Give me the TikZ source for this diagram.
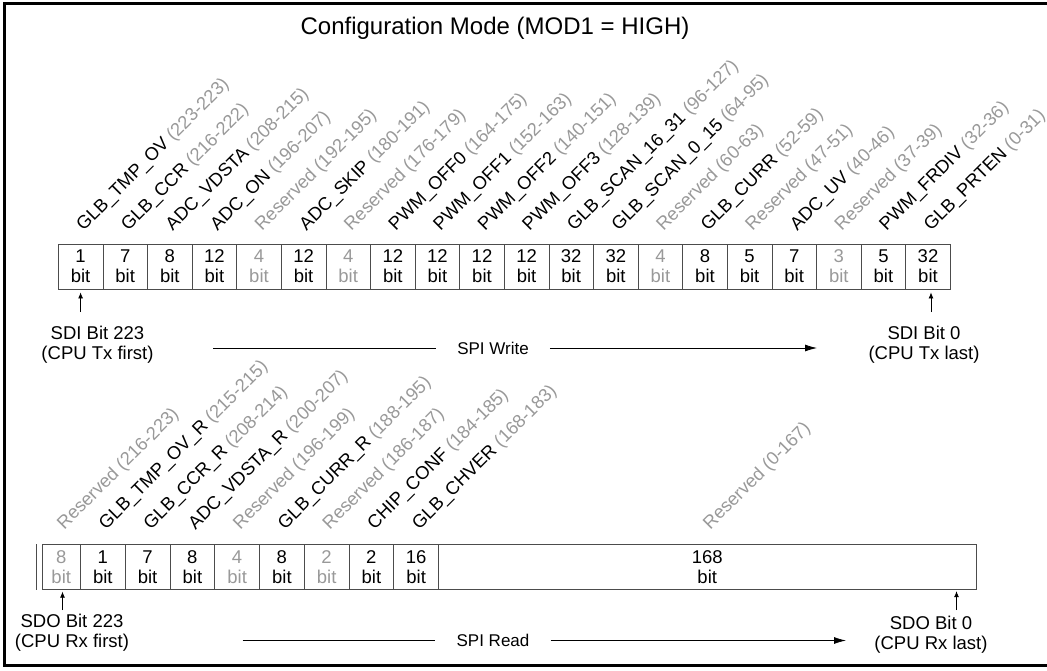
\documentclass[tikz,border=0pt]{standalone}
\usepackage{fontspec}
\setmainfont{Liberation Sans}
\usetikzlibrary{arrows.meta}

\definecolor{resgray}{gray}{0.6}
\definecolor{linegray}{gray}{0.3}

\tikzset{
  cell/.style={draw=linegray, line width=0.8pt, minimum height=45pt, inner sep=0pt,
    align=center, font=\fontsize{18.5}{20}\selectfont},
  lbl/.style={rotate=45, anchor=base west, inner sep=0pt, font=\fontsize{18.3}{20}\selectfont},
  note/.style={align=center, inner sep=0pt, font=\fontsize{18.5}{20}\selectfont},
  arr/.style={-{Latex[length=6pt,width=5pt]}, line width=0.8pt, shorten >=3pt},
  flow/.style={-{Latex[length=12pt,width=7pt]}, line width=0.8pt},
  spi/.style={inner xsep=21pt, inner ysep=0pt, font=\fontsize{17}{20}\selectfont}
}

\begin{document}
\begin{tikzpicture}[x=1pt, y=-1pt]
\useasboundingbox (0,0) rectangle (1047,671);
\draw[line width=3pt] (1060,4) -- (4,4) -- (4,665) -- (1060,665);

% Title
\node[font=\fontsize{24}{28}\selectfont, anchor=base, inner sep=0pt] (title) at (495,35)
  {Configuration Mode (MOD1 = HIGH)};

% Write register
\foreach \i/\nb/\lab/\rng/\lc/\tc in {
  1/1/GLB\_TMP\_OV/223-223/black/black, 2/7/GLB\_CCR/216-222/black/black,
  3/8/ADC\_VDSTA/208-215/black/black, 4/12/ADC\_ON/196-207/black/black,
  5/4/Reserved/192-195/resgray/resgray, 6/12/ADC\_SKIP/180-191/black/black,
  7/4/Reserved/176-179/resgray/resgray, 8/12/PWM\_OFF0/164-175/black/black,
  9/12/PWM\_OFF1/152-163/black/black, 10/12/PWM\_OFF2/140-151/black/black,
  11/12/PWM\_OFF3/128-139/black/black, 12/32/GLB\_SCAN\_16\_31/96-127/black/black,
  13/32/GLB\_SCAN\_0\_15/64-95/black/black, 14/4/Reserved/60-63/resgray/resgray,
  15/8/GLB\_CURR/52-59/black/black, 16/5/Reserved/47-51/resgray/black,
  17/7/ADC\_UV/40-46/black/black, 18/3/Reserved/37-39/resgray/resgray,
  19/5/PWM\_FRDIV/32-36/black/black, 20/32/GLB\_PRTEN/0-31/black/black}{
  \node[cell, minimum width=44.6pt, text=\tc] (w\i) at ({58.3+44.6*(\i-0.5)},266.5) {\nb\\bit};
  \node[lbl, text=\lc] (wl\i) at ([xshift=3pt,yshift=12pt]w\i.north) {\lab\ \textcolor{resgray}{(\rng)}};
}

% Read register
\foreach \i/\x/\cw/\nb/\lab/\rng/\lc/\tc in {
  1/61.25/38.5/8/Reserved/216-223/resgray/resgray,
  2/102.875/44.75/1/GLB\_TMP\_OV\_R/215-215/black/black,
  3/147.625/44.75/7/GLB\_CCR\_R/208-214/black/black,
  4/192.375/44.75/8/ADC\_VDSTA\_R/200-207/black/black,
  5/237.125/44.75/4/Reserved/196-199/resgray/resgray,
  6/281.875/44.75/8/GLB\_CURR\_R/188-195/black/black,
  7/326.625/44.75/2/Reserved/186-187/resgray/resgray,
  8/371.375/44.75/2/CHIP\_CONF/184-185/black/black,
  9/416.125/44.75/16/GLB\_CHVER/168-183/black/black,
  10/707.25/537.5/168/Reserved/0-167/resgray/black}{
  \node[cell, minimum width=\cw pt, text=\tc] (r\i) at (\x,567.25) {\nb\\bit};
  \node[lbl, text=\lc] (rl\i) at ([xshift=3pt,yshift=14pt]r\i.north) {\lab\ \textcolor{resgray}{(\rng)}};
}
\draw[draw=linegray, line width=0.8pt] ([xshift=-5.5pt]r1.north west) -- ([xshift=-5.5pt]r1.south west);

% First / last bit notes
\node[note] (sdifirst) at (97.5,344.5) {SDI Bit 223\\(CPU Tx first)};
\node[note] (sdilast) at (924,344.5) {SDI Bit 0\\(CPU Tx last)};
\node[note] (sdofirst) at (72,633) {SDO Bit 223\\(CPU Rx first)};
\node[note] (sdolast) at (931,635) {SDO Bit 0\\(CPU Rx last)};

\coordinate (wa1) at (80.6,312);
\coordinate (wa20) at (931,312);
\coordinate (ra1) at (62.5,610);
\coordinate (ra10) at (956.5,610);
\draw[arr] (wa1) -- (wa1 |- w1.south);
\draw[arr] (wa20) -- (wa20 |- w20.south);
\draw[arr, shorten >=1.5pt] (ra1) -- (ra1 |- r1.south);
\draw[arr, shorten >=1pt] (ra10) -- (ra10 |- r10.south);

% SPI direction
\node[spi] (spiwrite) at (493,348) {SPI Write};
\coordinate (wbeg) at (213,348);
\coordinate (wend) at (817,348);
\draw[line width=0.8pt] (wbeg) -- (spiwrite);
\draw[flow] (spiwrite) -- (wend);

\node[spi] (spiread) at (493,640.5) {SPI Read};
\coordinate (rbeg) at (242.5,640.5);
\coordinate (rend) at (846,640.5);
\draw[line width=0.8pt] (rbeg) -- (spiread);
\draw[flow] (spiread) -- (rend);
\end{tikzpicture}
\end{document}
